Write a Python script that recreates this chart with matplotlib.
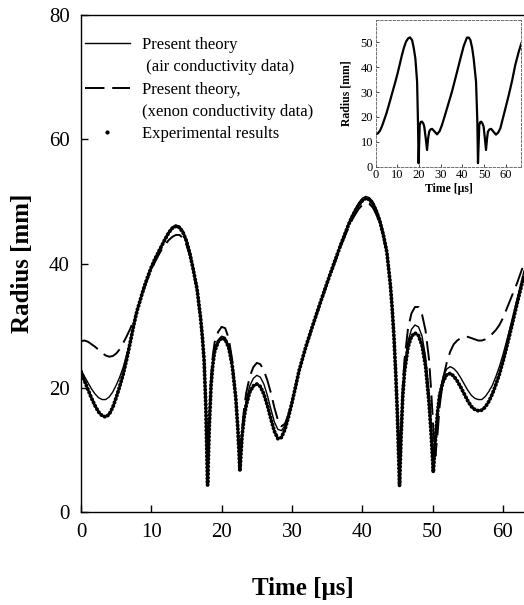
import matplotlib
matplotlib.use('Agg')
import matplotlib.pyplot as plt
from matplotlib.lines import Line2D

plt.rcParams['font.family'] = ['Liberation Serif', 'DejaVu Serif']

# main plot: radius vs time
time_us = [0.0, 0.5, 1.0, 1.5, 2.0, 2.5, 3.0, 3.5, 4.0, 4.5, 5.0, 5.5, 6.0, 6.5, 7.0, 7.5,
           8.0, 8.5, 9.0, 9.5, 10.0, 10.5, 11.0, 11.5, 12.0, 12.5, 13.0, 13.5, 14.0, 14.5,
           15.0, 15.5, 16.0, 16.5, 17.0, 17.25, 17.5, 17.75, 18.0, 18.25, 18.5, 18.75, 19.0,
           19.5, 20.0, 20.5, 21.0, 21.5, 22.0, 22.3, 22.6, 22.9, 23.2, 23.5, 24.0, 24.5,
           25.0, 25.5, 26.0, 26.5, 27.0, 27.5, 28.0, 28.5, 29.0, 29.5, 30.0, 30.5, 31.0,
           32.0, 33.0, 34.0, 35.0, 36.0, 37.0, 38.0, 38.5, 39.0, 39.5, 40.0, 40.5, 41.0,
           41.5, 42.0, 42.5, 43.0, 43.5, 44.0, 44.25, 44.5, 44.75, 45.0, 45.3, 45.5, 45.75,
           46.0, 46.5, 47.0, 47.5, 48.0, 48.5, 49.0, 49.5, 49.8, 50.1, 50.4, 50.7, 51.0,
           51.5, 52.0, 52.5, 53.0, 53.5, 54.0, 54.5, 55.0, 55.5, 56.0, 56.5, 57.0, 57.5,
           58.0, 58.5, 59.0, 59.5, 60.0, 60.5, 61.0, 61.5, 62.0, 62.5, 63.0]

r_exp = [22.6, 21.1, 19.7, 18.3, 17.1, 16.1, 15.5, 15.3, 15.7, 16.8, 18.4, 20.2, 22.2, 24.6,
         27.3, 30.1, 32.5, 34.4, 36.3, 37.9, 39.4, 40.7, 41.8, 42.9, 44.0, 45.0, 45.7, 46.0,
         45.8, 45.0, 43.6, 41.5, 38.8, 35.9, 31.3, 28.3, 24.5, 17.0, 4.3, 14.0, 20.5, 23.8,
         25.8, 27.4, 28.0, 27.8, 26.5, 23.6, 18.5, 13.5, 6.6, 12.2, 15.3, 17.2, 19.3, 20.3,
         20.6, 20.2, 19.0, 17.2, 15.0, 13.0, 11.8, 12.0, 13.3, 15.3, 17.6, 20.1, 22.7,
         26.7, 30.2, 33.6, 36.9, 40.1, 43.2, 46.1, 47.4, 48.5, 49.4, 50.1, 50.5, 50.3,
         49.6, 48.4, 46.8, 44.6, 41.8, 36.5, 32.8, 28.3, 22.5, 15.5, 4.2, 11.5, 18.5,
         22.5, 26.5, 28.3, 28.8, 28.4, 26.8, 23.5, 17.5, 12.5, 6.4, 11.5, 16.0, 18.8,
         21.0, 22.1, 22.3, 21.9, 21.1, 20.1, 19.0, 17.9, 17.0, 16.5, 16.3, 16.4, 16.9,
         17.8, 19.0, 20.5, 22.2, 24.2, 26.4, 28.7, 31.1, 33.5, 35.8, 38.0]

r_air = [22.9, 21.8, 20.8, 19.8, 19.0, 18.4, 18.1, 18.1, 18.5, 19.3, 20.4, 21.7, 23.3, 25.3,
         27.6, 30.2, 32.5, 34.4, 36.3, 38.0, 39.5, 40.8, 42.0, 43.1, 44.2, 45.2, 45.9, 46.2,
         46.0, 45.3, 43.9, 41.9, 39.2, 36.3, 31.7, 28.7, 24.9, 17.5, 5.0, 14.5, 21.0, 24.2,
         26.1, 27.7, 28.3, 28.1, 26.8, 23.9, 18.7, 13.6, 7.0, 12.6, 15.9, 18.0, 20.3, 21.5,
         22.0, 21.7, 20.6, 18.8, 16.6, 14.5, 13.3, 13.1, 13.9, 15.6, 17.7, 20.1, 22.7,
         26.7, 30.2, 33.6, 37.0, 40.2, 43.4, 46.4, 47.7, 48.8, 49.8, 50.5, 50.8, 50.6,
         50.0, 48.8, 47.2, 45.0, 42.2, 37.0, 33.3, 28.8, 23.0, 16.0, 5.0, 12.0, 19.2,
         23.3, 27.5, 29.4, 30.1, 29.8, 28.3, 25.0, 19.2, 14.0, 8.0, 11.8, 16.3, 19.2,
         21.8, 23.0, 23.4, 23.1, 22.5, 21.6, 20.6, 19.6, 18.8, 18.3, 18.1, 18.1, 18.6,
         19.4, 20.4, 21.8, 23.4, 25.3, 27.4, 29.6, 31.9, 34.2, 36.5, 38.8]

r_xenon = [27.5, 27.6, 27.4, 27.0, 26.6, 26.1, 25.6, 25.2, 25.0, 25.1, 25.5, 26.2, 27.2, 28.3,
           29.5, 30.9, 32.5, 34.3, 36.0, 37.6, 39.0, 40.2, 41.3, 42.3, 43.1, 43.8, 44.3, 44.6,
           44.6, 44.1, 43.0, 41.2, 38.7, 35.7, 31.0, 28.2, 24.6, 17.6, 5.5, 15.0, 21.8, 25.2,
           27.3, 29.0, 29.8, 29.6, 28.0, 24.5, 18.8, 13.6, 7.3, 13.0, 16.8, 19.2, 21.8, 23.3,
           24.0, 23.8, 22.8, 21.2, 19.2, 16.8, 14.8, 13.8, 14.2, 15.7, 17.7, 20.1, 22.6,
           26.5, 30.0, 33.4, 36.7, 39.8, 42.9, 45.7, 46.9, 47.9, 48.8, 49.4, 49.7, 49.6,
           49.0, 47.9, 46.4, 44.3, 41.6, 36.6, 33.0, 28.6, 23.0, 16.2, 5.5, 12.5, 20.0,
           24.5, 29.5, 32.0, 33.0, 33.0, 31.8, 29.2, 24.5, 19.5, 13.5, 9.0, 12.5, 17.0,
           21.5, 24.0, 25.8, 27.0, 27.6, 28.0, 28.2, 28.2, 28.0, 27.8, 27.6, 27.6, 27.8,
           28.2, 28.7, 29.3, 30.1, 31.2, 32.6, 34.0, 35.4, 36.8, 38.4, 40.0]

# inset curve
inset_time = [0.0, 1.0, 2.0, 3.0, 4.0, 5.0, 6.0, 7.0, 8.0, 9.0, 10.0, 11.0, 12.0, 13.0, 14.0,
              15.0, 15.8, 16.8, 17.6, 18.3, 19.1, 19.5, 19.8, 20.3, 20.8, 21.4, 22.0, 22.4,
              23.0, 23.7, 24.2, 24.7, 25.3, 26.0, 27.0, 28.3, 29.5, 30.6, 32.0, 33.5, 35.2,
              37.0, 39.1, 40.6, 42.1, 43.0, 43.7, 44.5, 45.2, 46.3, 46.9, 47.2, 47.8, 48.2,
              48.7, 49.3, 49.8, 50.3, 50.9, 51.4, 51.8, 52.5, 53.3, 54.4, 55.5, 56.5, 57.5,
              59.0, 61.4, 63.0, 64.4, 66.0, 67.2]
inset_radius = [13.0, 13.4, 14.5, 16.5, 19.0, 21.6, 24.6, 27.7, 30.8, 33.9, 37.2, 40.8, 44.5,
                47.8, 50.3, 51.6, 52.0, 50.9, 47.5, 43.5, 34.2, 18.1, 1.4, 16.8, 18.0, 18.1,
                17.3, 16.1, 12.0, 6.7, 11.5, 14.1, 15.0, 15.2, 14.3, 13.0, 14.3, 16.8, 20.8,
                25.2, 30.2, 36.3, 43.5, 48.5, 51.9, 51.9, 50.9, 47.8, 43.5, 34.2, 18.1, 1.4,
                16.8, 17.9, 18.1, 17.3, 16.1, 12.0, 6.7, 11.5, 14.1, 15.0, 15.2, 14.0, 12.9,
                13.7, 15.4, 20.5, 28.8, 34.8, 40.9, 46.2, 49.6]

xticks = [0, 10, 20, 30, 40, 50, 60]
yticks = [0, 20, 40, 60, 80]

fig = plt.figure(figsize=(5.24, 6.05), dpi=100)
ax = fig.add_axes([0.1546, 0.1537, 0.8454, 0.8215])

# experimental = dense dots, theory = thin solid / long dashes
ax.plot(time_us, r_exp, color='black', lw=2.8, ls=(0, (0.1, 0.85)),
        dash_capstyle='round', zorder=2)
ax.plot(time_us, r_air, color='black', lw=1.0, zorder=3)
ax.plot(time_us, r_xenon, color='black', lw=1.4, ls=(0, (10, 4)), zorder=3)

ax.set_xlim(0, 63)
ax.set_ylim(0, 80)
ax.set_xticks(xticks)
ax.set_yticks(yticks)
ax.tick_params(direction='in', length=5, width=1, labelsize=15, pad=8)
ax.spines['right'].set_visible(False)
for s in ['left', 'bottom', 'top']:
    ax.spines[s].set_linewidth(1.0)
ax.set_xlabel('Time [μs]', fontsize=18, fontweight='bold', labelpad=25)
ax.set_ylabel('Radius [mm]', fontsize=18, fontweight='bold', labelpad=11)

handles = [
    Line2D([], [], color='black', lw=1.0),
    Line2D([], [], ls='none'),
    Line2D([], [], color='black', lw=1.4, ls=(0, (10, 4))),
    Line2D([], [], ls='none'),
    Line2D([], [], color='black', marker='.', ms=4, ls='none'),
]
labels = ['Present theory', ' (air conductivity data)', 'Present theory,',
          '(xenon conductivity data)', 'Experimental results']
ax.legend(handles, labels, loc='upper left', bbox_to_anchor=(0.009, 0.956),
          frameon=False, fontsize=12, handlelength=2.7, handletextpad=0.7,
          labelspacing=0.38, borderpad=0, borderaxespad=0)

# inset
axin = fig.add_axes([0.717, 0.7245, 0.2779, 0.2425])
axin.plot(inset_time, inset_radius, color='black', lw=1.6)
axin.set_xlim(0, 67.2)
axin.set_ylim(0, 59)
axin.set_xticks(xticks)
axin.set_yticks([0, 10, 20, 30, 40, 50])
axin.tick_params(direction='in', length=2, width=0.5, labelsize=9, pad=2)
for s in axin.spines.values():
    s.set_linestyle((0, (3, 2)))
    s.set_linewidth(0.6)
    s.set_color('0.35')
axin.set_xlabel('Time [μs]', fontsize=8.5, fontweight='bold', labelpad=1)
axin.set_ylabel('Radius [mm]', fontsize=8.5, fontweight='bold', labelpad=6)

fig.savefig('out.png', dpi=100)
